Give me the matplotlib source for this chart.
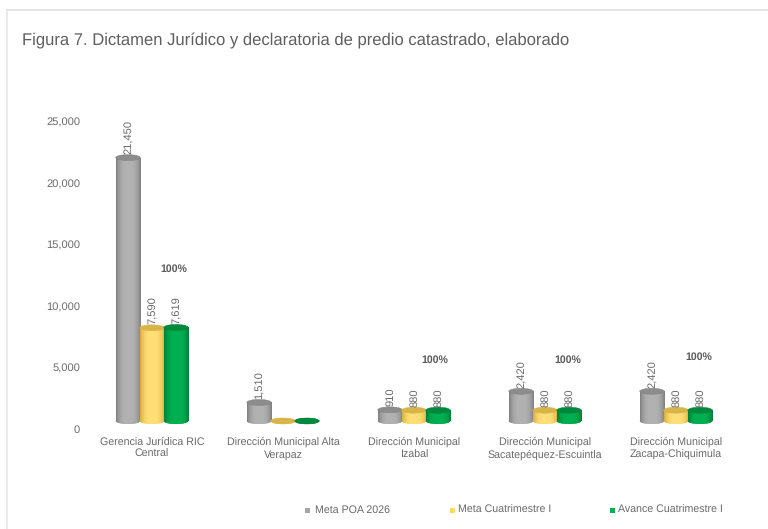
import matplotlib
matplotlib.use('Agg')
import matplotlib.pyplot as plt
import numpy as np
from matplotlib.lines import Line2D
from matplotlib.patches import Ellipse, Rectangle

plt.rcParams['font.family'] = ['Liberation Sans', 'DejaVu Sans']
plt.rcParams['text.hinting'] = 'no_hinting'

# data
categories = ['Gerencia Jurídica RIC\nCentral', 'Dirección Municipal Alta\nVerapaz',
              'Dirección Municipal\nIzabal', 'Dirección Municipal\nSacatepéquez-Escuintla',
              'Dirección Municipal\nZacapa-Chiquimula']
meta_poa = [21450, 1510, 910, 2420, 2420]
meta_cuatrimestre = [7590, 0, 880, 880, 880]
avance_cuatrimestre = [7619, 0, 880, 880, 880]
porcentaje = ['100%', '', '100%', '100%', '100%']
y_ticks = [0, 5000, 10000, 15000, 20000, 25000]
series_names = ['Meta POA 2026', 'Meta Cuatrimestre I', 'Avance Cuatrimestre I']

W, H = 768, 529
TXT = '#6a6a6a'
# edge, mid and highlight colours of each cylinder
PALETTE = [('#808080', '#a6a6a6', '#b2b2b2', '#8c8c8c'),
           ('#d9ae3c', '#ffd966', '#ffdf78', '#d8b54a'),
           ('#007f38', '#00a84a', '#00b050', '#00883c')]

fig = plt.figure(figsize=(W / 100, H / 100), dpi=100, facecolor='white')
ax = fig.add_axes([86.5 / W, (H - 429) / H, 655 / W, 307 / H])
ax.set_xlim(-0.5, 4.5)
ax.set_ylim(0, 25000)
ax.patch.set_visible(False)
for s in ax.spines.values():
    s.set_visible(False)

px_y = 25000 / 307   # data units per pixel
px_x = 5 / 655
base = 8 * px_y      # the 3d floor lifts bars over the zero line
bar_w = 24.5 * px_x
ell_h = 6 * px_y


def cylinder(x, val, cols, z):
    edge, mid, light, topcol = cols
    body = ax.bar(x, val, bar_w, bottom=base, color=mid, linewidth=0, zorder=z)[0]
    foot = Ellipse((x, base), bar_w, ell_h, facecolor=mid, linewidth=0, zorder=z)
    ax.add_patch(foot)
    # horizontal shading, dark on both sides
    t = np.linspace(-1, 1, 40)
    shade = np.abs(t)[None, :] ** 3
    c0 = np.array(matplotlib.colors.to_rgb(light))
    c1 = np.array(matplotlib.colors.to_rgb(edge))
    img = c0[None, None, :] * (1 - shade[..., None]) + c1[None, None, :] * shade[..., None]
    for patch in (body, foot):
        im = ax.imshow(img, extent=(x - bar_w / 2, x + bar_w / 2, 0, 25000),
                       aspect='auto', zorder=z + 0.1)
        im.set_clip_path(patch)
    ax.add_patch(Ellipse((x, base + val), bar_w, ell_h, facecolor=topcol,
                         edgecolor=edge, linewidth=0.3, zorder=z + 0.2))


for i in range(len(categories)):
    for j, vals in enumerate([meta_poa, meta_cuatrimestre, avance_cuatrimestre]):
        x = i + (j - 1) * 24 * px_x
        cylinder(x, vals[i], PALETTE[j], 3 + j)
        if vals[i] > 0:
            ax.text(x + px_x, base + vals[i] + 3.5 * px_y, f'{vals[i]:,}', rotation=90,
                    ha='center', va='bottom', fontsize=8.0, color=TXT, zorder=10)

# percent labels, placed by hand like in the original
pct_dx = [0.17, 0, 0.16, 0.175, 0.175]
pct_y = [13030, 0, 5620, 5620, 5860]
for i, p in enumerate(porcentaje):
    if p:
        ax.text(i + pct_dx[i], pct_y[i], p, ha='center', va='center', fontsize=7.6,
                fontweight='bold', color='#5a5a5a')

ax.set_xticks(range(len(categories)))
ax.set_xticklabels(categories, fontsize=7.65, color=TXT, linespacing=1.25)
ax.set_yticks(y_ticks)
ax.set_yticklabels([f'{v:,}' for v in y_ticks], fontsize=8.0, color=TXT)
ax.tick_params(axis='both', length=0)
ax.tick_params(axis='x', pad=5.8)
ax.tick_params(axis='y', pad=4.5)

fig.text(22 / W, 1 - 41 / H, 'Figura 7. Dictamen Jurídico y declaratoria de predio catastrado, elaborado',
         fontsize=11.94, color='#5f5f5f', va='center')

# legend by hand, the gaps are not even
swatch_x = [304.5, 449.5, 609.5]
label_x = [315, 458, 618]
leg_cols = ['#a6a6a6', '#ffd966', '#00b050']
for sx, lx, c, name in zip(swatch_x, label_x, leg_cols, series_names):
    fig.add_artist(Rectangle((sx / W, 1 - 512.5 / H), 5 / W, 5 / H, facecolor=c, linewidth=0,
                             transform=fig.transFigure))
    fig.text(lx / W, 1 - 510 / H, name, fontsize=7.7, color=TXT, va='center')

# faint frame of the screenshot
fig.add_artist(Line2D([6.5 / W, 1], [1 - 9.5 / H, 1 - 9.5 / H], color='#e0e0e0', lw=1.2))
fig.add_artist(Line2D([6.5 / W, 6.5 / W], [0, 1 - 9.5 / H], color='#e6e6e6', lw=1.2))

fig.savefig('out.png', dpi=100)
